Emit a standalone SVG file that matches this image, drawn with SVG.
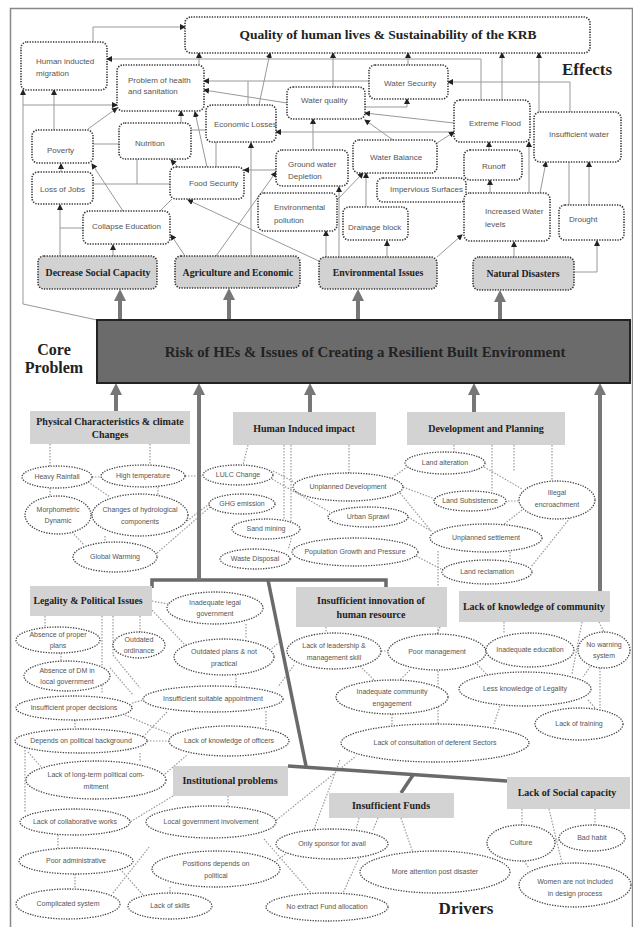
<svg xmlns="http://www.w3.org/2000/svg" width="633" height="927" viewBox="0 0 633 927">
<defs>
<marker id="a" markerWidth="6" markerHeight="6" refX="5" refY="3" orient="auto" markerUnits="userSpaceOnUse"><path d="M0,0 L6,3 L0,6 z" fill="#222"/></marker>
<marker id="A" markerWidth="12" markerHeight="12" refX="1" refY="6" orient="auto" markerUnits="userSpaceOnUse"><path d="M0,0 L12,6 L0,12 z" fill="#777"/></marker>
<style>
.bx{fill:#fff;stroke:#333;stroke-width:1.6;stroke-dasharray:1.3 1.3}
.gb{fill:#d2d2d2;stroke:#333;stroke-width:1.6;stroke-dasharray:1.3 1.3}
.db{fill:#d3d3d3;stroke:none}
.el{fill:#fff;stroke:#444;stroke-width:1.3;stroke-dasharray:1.3 1.3}
.c{fill:none;stroke:#999;stroke-width:1}
.ca{fill:none;stroke:#999;stroke-width:1;marker-end:url(#a)}
.d{fill:none;stroke:#999;stroke-width:1.2;stroke-dasharray:1.5 1.5}
.th{fill:none;stroke:#6a6a6a;stroke-width:3.5}
.ta{fill:none;stroke:#777;stroke-width:4;marker-end:url(#A)}
.t{font-family:"Liberation Sans",Arial,sans-serif;font-size:8px;fill:#555}
.e{font-family:"Liberation Sans",Arial,sans-serif;font-size:7px;fill:#555;text-anchor:middle}
.h{font-family:"Liberation Serif","Times New Roman",serif;font-weight:bold;fill:#222;text-anchor:middle}
</style>
</defs>
<rect x="10.5" y="8.5" width="622" height="920" fill="none" stroke="#888" stroke-width="1.5"/>

<g id="connectors">
<path class="ca" d="M93,42 V27 H185"/>
<path class="ca" d="M481,100 V59 H107"/>
<path class="ca" d="M97,320 L23,304 V90"/>
<path class="ca" d="M23,105 H117"/>
<path class="ca" d="M54,130 V90"/>
<path class="ca" d="M88,129 L117,108"/>
<path class="c" d="M93,144 H119"/>
<path class="ca" d="M181,123 V111"/>
<path class="c" d="M191,130 H206"/>
<path class="ca" d="M207,167 L195,112"/>
<path class="ca" d="M178,167 L171,160"/>
<path class="c" d="M93,184 H170 M137,159 V184"/>
<path class="ca" d="M61,172 V164"/>
<path class="ca" d="M123,211 L92,164"/>
<path class="ca" d="M83,228 H60 V205"/>
<path class="c" d="M60,256 V228"/>
<path class="ca" d="M113,256 V245"/>
<path class="c" d="M160,211 L172,199"/>
<path class="ca" d="M185,256 L171,235"/>
<path class="ca" d="M321,262 L188,200"/>
<path class="ca" d="M216,256 L276,172"/>
<path class="ca" d="M251,256 V143"/>
<path class="c" d="M216,142 V167"/>
<path class="ca" d="M276,170 H244"/>
<path class="ca" d="M326,257 V231"/>
<path class="ca" d="M339,257 V187"/>
<path class="ca" d="M387,257 V241"/>
<path class="ca" d="M437,257 L462,235"/>
<path class="ca" d="M514,257 V242"/>
<path class="ca" d="M574,272 H597 V241"/>
<path class="ca" d="M313,150 V119"/>
<path class="ca" d="M333,87 V53"/>
<path class="ca" d="M259,105 L270,53"/>
<path class="ca" d="M408,65 V53"/>
<path class="ca" d="M199,65 V53"/>
<path class="ca" d="M365,107 H407 V99"/>
<path class="ca" d="M393,140 L365,120"/>
<path class="ca" d="M366,207 V173"/>
<path class="ca" d="M337,200 L363,173"/>
<path class="ca" d="M454,123 L365,113"/>
<path class="ca" d="M454,132 H276"/>
<path class="ca" d="M502,100 V53"/>
<path class="ca" d="M539,112 V53"/>
<path class="ca" d="M570,112 V82 H448"/>
<path class="ca" d="M369,81 H204"/>
<path class="ca" d="M287,103 L204,90"/>
<path class="c" d="M248,81 V105"/>
<path class="ca" d="M489,150 V142"/>
<path class="ca" d="M490,193 V180"/>
<path class="ca" d="M529,193 V142"/>
<path class="ca" d="M540,193 L546,162"/>
<path class="ca" d="M589,205 V162"/>
<path class="c" d="M569,162 V205"/>
<path class="ca" d="M437,143 L454,132"/>

<path class="d" d="M50,444 V467 M150,444 V466 M92,477 H101 M185,476 H203 M50,488 V496 M88,482 L110,497 M158,487 V495 M72,532 L84,545 M105,536 V543 M187,521 L209,504 M157,553 L210,507"/>
<path class="d" d="M248,445 L243,465 M284,445 V519 M291,445 V540 L288,550 M349,445 V473 M273,471 L294,482 M272,479 L330,512 M290,559 H292 M403,487 L435,499 M400,493 L432,532 M408,517 L431,531 M416,556 L443,570 M392,478 L407,467"/>
<path class="d" d="M454,445 V452 M492,445 V491 M514,445 V471 M552,445 V481 M484,467 L522,489 M505,501 H519 M522,510 L503,525 M570,518 L531,567 M510,552 V561 M438,551 V724"/>
<path class="d" d="M152,601 L168,604 M150,608 L186,646 M45,616 V627 M102,616 V694 M113,616 V655 L140,688 M140,616 V632 M61,653 V661 M110,668 L133,695 M246,624 V639 M236,675 V686 M132,703 L144,700 M125,715 L170,734 M266,711 V727 M167,712 L140,740 M147,741 H169 M28,752 L42,768 M140,753 V762 M25,747 V812 M165,774 L187,755 M75,720 V729"/>
<path class="d" d="M228,796 V806 M173,796 L130,822 M58,835 V848 M75,874 V889 M120,869 L143,895 M113,893 L150,846 M170,887 V893 M274,822 L356,756 M264,839 L311,893 M272,864 L287,853 M314,829 L340,760"/>
<path class="d" d="M359,818 L356,830 M378,818 L373,830 M401,818 L413,853 M359,858 L343,893"/>
<path class="d" d="M522,809 V825 M549,809 L562,863 M595,809 V825 M555,840 H559 M524,861 L529,868"/>
<path class="d" d="M326,627 V633 M440,627 L437,634 M381,651 H388 M360,666 L375,681 M294,665 L278,687 M282,640 L270,650 M410,670 L400,680 M392,714 V725"/>
<path class="d" d="M504,622 V633 M582,622 L572,674 M599,622 L604,632 M600,668 V708 M592,664 L583,677 M477,664 L489,677 M500,706 L494,724 M588,700 L596,709"/>

<path class="th" d="M152,588 V580 H386 V587"/>
<path class="th" d="M268,580 L306,766"/>
<path class="th" d="M288,766 L507,781"/>
<path class="th" d="M413,775 L401,793"/>
<path class="ta" d="M120,320 V300"/>
<path class="ta" d="M229,320 V299"/>
<path class="ta" d="M358,320 V300"/>
<path class="ta" d="M500,320 V301"/>
<path class="ta" d="M116,411 V394"/>
<path class="ta" d="M199,580 V394"/>
<path class="ta" d="M310,412 V394"/>
<path class="ta" d="M474,412 V394"/>
<path class="ta" d="M600,591 V394"/>
</g>

<g id="quality"><rect class="bx" x="185" y="17" width="405" height="36" rx="6"/><text class="h" x="388" y="39" font-size="13.5">Quality of human lives &amp; Sustainability of the KRB</text></g>
<g id="migration"><rect class="bx" x="21" y="42" width="86" height="48" rx="6"/><text class="t" x="36" y="64">Human inducted</text><text class="t" x="36" y="76">migration</text></g>
<g id="health"><rect class="bx" x="117" y="65" width="87" height="46" rx="6"/><text class="t" x="128" y="83">Problem of health</text><text class="t" x="128" y="94">and sanitation</text></g>
<g id="poverty"><rect class="bx" x="32" y="130" width="61" height="33" rx="6"/><text class="t" x="47" y="153">Poverty</text></g>
<g id="nutrition"><rect class="bx" x="119" y="123" width="72" height="36" rx="6"/><text class="t" x="135" y="146">Nutrition</text></g>
<g id="jobs"><rect class="bx" x="32" y="172" width="61" height="32" rx="6"/><text class="t" x="40" y="192">Loss of Jobs</text></g>
<g id="education"><rect class="bx" x="83" y="211" width="87" height="33" rx="6"/><text class="t" x="92" y="229">Collapse Education</text></g>
<g id="foodsecurity"><rect class="bx" x="170" y="167" width="74" height="32" rx="6"/><text class="t" x="189" y="186">Food Security</text></g>
<g id="economic"><rect class="bx" x="206" y="105" width="70" height="37" rx="6"/><text class="t" x="214" y="127">Economic Losses</text></g>
<g id="waterquality"><rect class="bx" x="287" y="87" width="78" height="32" rx="6"/><text class="t" x="301" y="103">Water quality</text></g>
<g id="watersecurity"><rect class="bx" x="369" y="65" width="79" height="34" rx="6"/><text class="t" x="384" y="86">Water Security</text></g>
<g id="groundwater"><rect class="bx" x="276" y="150" width="72" height="36" rx="6"/><text class="t" x="288" y="167">Ground water</text><text class="t" x="288" y="179">Depletion</text></g>
<g id="pollution"><rect class="bx" x="258" y="193" width="79" height="38" rx="6"/><text class="t" x="274" y="210">Environmental</text><text class="t" x="274" y="223">pollution</text></g>
<g id="waterbalance"><rect class="bx" x="353" y="140" width="84" height="33" rx="6"/><text class="t" x="370" y="160">Water Balance</text></g>
<g id="impervious"><rect class="bx" x="377" y="178" width="89" height="24" rx="6"/><text class="t" x="390" y="192">Impervious Surfaces</text></g>
<g id="drainage"><rect class="bx" x="343" y="207" width="65" height="33" rx="6"/><text class="t" x="348" y="230">Drainage block</text></g>
<g id="flood"><rect class="bx" x="454" y="100" width="76" height="42" rx="6"/><text class="t" x="469" y="126">Extreme Flood</text></g>
<g id="runoff"><rect class="bx" x="464" y="150" width="58" height="30" rx="6"/><text class="t" x="482" y="169">Runoff</text></g>
<g id="insufficientwater"><rect class="bx" x="534" y="112" width="87" height="50" rx="6"/><text class="t" x="549" y="137">Insufficient water</text></g>
<g id="increased"><rect class="bx" x="464" y="193" width="86" height="48" rx="6"/><text class="t" x="485" y="214">Increased Water</text><text class="t" x="485" y="227">levels</text></g>
<g id="drought"><rect class="bx" x="559" y="205" width="65" height="35" rx="6"/><text class="t" x="569" y="222">Drought</text></g>

<g id="decrease"><rect class="gb" x="38" y="256" width="119" height="33" rx="6"/><text class="h" x="98" y="276" font-size="9.8">Decrease Social Capacity</text></g>
<g id="agriculture"><rect class="gb" x="175" y="256" width="125" height="32" rx="6"/><text class="h" x="238" y="276" font-size="9.8">Agriculture and Economic</text></g>
<g id="environmental"><rect class="gb" x="319" y="257" width="118" height="32" rx="6"/><text class="h" x="378" y="276" font-size="9.8">Environmental Issues</text></g>
<g id="natural"><rect class="gb" x="473" y="257" width="101" height="33" rx="6"/><text class="h" x="523" y="277" font-size="9.8">Natural Disasters</text></g>

<text class="h" x="587" y="75" font-size="17">Effects</text>
<text class="h" x="54" y="355" font-size="16">Core</text>
<text class="h" x="54" y="373" font-size="16">Problem</text>
<text class="h" x="466" y="914" font-size="17">Drivers</text>

<g id="core"><rect x="97" y="320" width="533" height="63" fill="#6b6b6b" stroke="#222" stroke-width="2"/><text class="h" x="365" y="357" font-size="14.8">Risk of HEs &amp; Issues of Creating a Resilient Built Environment</text></g>

<g id="physical"><rect class="db" x="30" y="411" width="160" height="33"/><text class="h" x="110" y="425" font-size="10">Physical  Characteristics  &amp; climate</text><text class="h" x="110" y="438" font-size="10">Changes</text></g>
<g id="human"><rect class="db" x="233" y="412" width="143" height="33"/><text class="h" x="304" y="432" font-size="10">Human  Induced impact</text></g>
<g id="development"><rect class="db" x="407" y="412" width="158" height="33"/><text class="h" x="486" y="432" font-size="10">Development  and Planning</text></g>
<g id="legality"><rect class="db" x="30" y="586" width="122" height="30"/><text class="h" x="88" y="604" font-size="9.8">Legality &amp; Political Issues</text></g>
<g id="innovation"><rect class="db" x="296" y="587" width="151" height="40"/><text class="h" x="371" y="604" font-size="10">Insufficient  innovation of</text><text class="h" x="371" y="618" font-size="10">human resource</text></g>
<g id="community"><rect class="db" x="459" y="591" width="151" height="31"/><text class="h" x="534" y="610" font-size="10">Lack of knowledge of community</text></g>
<g id="institutional"><rect class="db" x="173" y="766" width="115" height="30"/><text class="h" x="230" y="784" font-size="10">Institutional problems</text></g>
<g id="funds"><rect class="db" x="329" y="793" width="125" height="25"/><text class="h" x="391" y="809" font-size="10">Insufficient Funds</text></g>
<g id="social"><rect class="db" x="507" y="777" width="123" height="32"/><text class="h" x="567" y="796" font-size="10">Lack of Social capacity</text></g>

<g id="rainfall"><ellipse class="el" cx="57" cy="477" rx="35" ry="11"/><text class="e" x="57" y="479">Heavy Rainfall</text></g>
<g id="temperature"><ellipse class="el" cx="143" cy="476" rx="42" ry="11"/><text class="e" x="143" y="478">High temperature</text></g>
<g id="morphometric"><ellipse class="el" cx="58" cy="515" rx="33" ry="19"/><text class="e" x="58" y="512">Morphometric</text><text class="e" x="58" y="523">Dynamic</text></g>
<g id="hydrological"><ellipse class="el" cx="140" cy="515" rx="48" ry="21"/><text class="e" x="140" y="512">Changes of hydrological</text><text class="e" x="140" y="524">components</text></g>
<g id="warming"><ellipse class="el" cx="115" cy="557" rx="42" ry="15"/><text class="e" x="115" y="559">Global Warming</text></g>
<g id="lulc"><ellipse class="el" cx="238" cy="475" rx="35" ry="10"/><text class="e" x="238" y="477">LULC Change</text></g>
<g id="ghg"><ellipse class="el" cx="242" cy="504" rx="33" ry="10"/><text class="e" x="242" y="506">GHG emission</text></g>
<g id="sand"><ellipse class="el" cx="266" cy="529" rx="34" ry="10"/><text class="e" x="266" y="531">Sand mining</text></g>
<g id="waste"><ellipse class="el" cx="255" cy="559" rx="35" ry="10"/><text class="e" x="255" y="561">Waste Disposal</text></g>
<g id="unplanneddev"><ellipse class="el" cx="348" cy="487" rx="55" ry="14"/><text class="e" x="348" y="489">Unplanned Development</text></g>
<g id="sprawl"><ellipse class="el" cx="368" cy="517" rx="40" ry="10"/><text class="e" x="368" y="519">Urban Sprawl</text></g>
<g id="population"><ellipse class="el" cx="355" cy="552" rx="63" ry="14"/><text class="e" x="355" y="554">Population Growth and Pressure</text></g>
<g id="alteration"><ellipse class="el" cx="445" cy="463" rx="40" ry="11"/><text class="e" x="445" y="465">Land alteration</text></g>
<g id="subsistence"><ellipse class="el" cx="470" cy="501" rx="36" ry="10"/><text class="e" x="470" y="503">Land Subsistence</text></g>
<g id="illegal"><ellipse class="el" cx="557" cy="500" rx="38" ry="19"/><text class="e" x="557" y="495">Illegal</text><text class="e" x="557" y="507">encroachment</text></g>
<g id="settlement"><ellipse class="el" cx="486" cy="538" rx="56" ry="14"/><text class="e" x="486" y="540">Unplanned settlement</text></g>
<g id="reclamation"><ellipse class="el" cx="487" cy="572" rx="45" ry="12"/><text class="e" x="487" y="574">Land reclamation</text></g>
<g id="inadlegal"><ellipse class="el" cx="215" cy="608" rx="48" ry="16"/><text class="e" x="215" y="605">Inadequate  legal</text><text class="e" x="215" y="616">government</text></g>
<g id="absplans"><ellipse class="el" cx="58" cy="640" rx="42" ry="13"/><text class="e" x="58" y="637">Absence of proper</text><text class="e" x="58" y="648">plans</text></g>
<g id="ordinance"><ellipse class="el" cx="139" cy="645" rx="26" ry="13"/><text class="e" x="139" y="642">Outdated</text><text class="e" x="139" y="653">ordinance</text></g>
<g id="outplans"><ellipse class="el" cx="224" cy="657" rx="50" ry="18"/><text class="e" x="224" y="654">Outdated plans &amp; not</text><text class="e" x="224" y="666">practical</text></g>
<g id="absdm"><ellipse class="el" cx="67" cy="676" rx="43" ry="15"/><text class="e" x="67" y="673">Absence of DM in</text><text class="e" x="67" y="684">local government</text></g>
<g id="suitable"><ellipse class="el" cx="213" cy="699" rx="70" ry="13"/><text class="e" x="213" y="701">Insufficient suitable appointment</text></g>
<g id="decisions"><ellipse class="el" cx="74" cy="708" rx="58" ry="12"/><text class="e" x="74" y="710">Insufficient proper decisions</text></g>
<g id="officers"><ellipse class="el" cx="229" cy="741" rx="60" ry="15"/><text class="e" x="229" y="743">Lack of knowledge of officers</text></g>
<g id="depends"><ellipse class="el" cx="81" cy="741" rx="66" ry="12"/><text class="e" x="81" y="743">Depends on political background</text></g>
<g id="longterm"><ellipse class="el" cx="96" cy="780" rx="70" ry="19"/><text class="e" x="96" y="777">Lack of long-term political com-</text><text class="e" x="96" y="789">mitment</text></g>
<g id="collaborative"><ellipse class="el" cx="75" cy="822" rx="55" ry="13"/><text class="e" x="75" y="824">Lack of collaborative works</text></g>
<g id="localgov"><ellipse class="el" cx="211" cy="822" rx="65" ry="16"/><text class="e" x="211" y="824">Local government involvement</text></g>
<g id="pooradmin"><ellipse class="el" cx="76" cy="861" rx="57" ry="13"/><text class="e" x="76" y="863">Poor administrative</text></g>
<g id="positions"><ellipse class="el" cx="216" cy="869" rx="64" ry="18"/><text class="e" x="216" y="866">Positions depends on</text><text class="e" x="216" y="878">political</text></g>
<g id="complicated"><ellipse class="el" cx="68" cy="904" rx="52" ry="15"/><text class="e" x="68" y="906">Complicated system</text></g>
<g id="skills"><ellipse class="el" cx="170" cy="906" rx="42" ry="13"/><text class="e" x="170" y="908">Lack of skills</text></g>
<g id="sponsor"><ellipse class="el" cx="332" cy="844" rx="56" ry="15"/><text class="e" x="332" y="846">Only sponsor for avail</text></g>
<g id="noextract"><ellipse class="el" cx="327" cy="907" rx="61" ry="14"/><text class="e" x="327" y="909">No extract Fund allocation</text></g>
<g id="moreattention"><ellipse class="el" cx="435" cy="872" rx="75" ry="21"/><text class="e" x="435" y="874">More attention post disaster</text></g>
<g id="culture"><ellipse class="el" cx="521" cy="843" rx="34" ry="18"/><text class="e" x="521" y="845">Culture</text></g>
<g id="badhabit"><ellipse class="el" cx="592" cy="838" rx="33" ry="13"/><text class="e" x="592" y="840">Bad habit</text></g>
<g id="women"><ellipse class="el" cx="575" cy="885" rx="56" ry="22"/><text class="e" x="575" y="884">Women are not included</text><text class="e" x="575" y="896">in design process</text></g>
<g id="leadership"><ellipse class="el" cx="334" cy="651" rx="47" ry="18"/><text class="e" x="334" y="648">Lack of leadership &amp;</text><text class="e" x="334" y="660">management skill</text></g>
<g id="poormanagement"><ellipse class="el" cx="437" cy="652" rx="49" ry="18"/><text class="e" x="437" y="654">Poor management</text></g>
<g id="engagement"><ellipse class="el" cx="392" cy="697" rx="56" ry="17"/><text class="e" x="392" y="694">Inadequate community</text><text class="e" x="392" y="706">engagement</text></g>
<g id="education2"><ellipse class="el" cx="530" cy="650" rx="44" ry="17"/><text class="e" x="530" y="652">Inadequate education</text></g>
<g id="warning"><ellipse class="el" cx="604" cy="650" rx="26" ry="18"/><text class="e" x="604" y="647">No warning</text><text class="e" x="604" y="658">system</text></g>
<g id="legalityknowledge"><ellipse class="el" cx="525" cy="689" rx="66" ry="17"/><text class="e" x="525" y="691">Less knowledge of Legality</text></g>
<g id="training"><ellipse class="el" cx="579" cy="724" rx="44" ry="16"/><text class="e" x="579" y="726">Lack of training</text></g>
<g id="consultation"><ellipse class="el" cx="435" cy="743" rx="94" ry="19"/><text class="e" x="435" y="745">Lack of consultation of deferent Sectors</text></g>
</svg>
